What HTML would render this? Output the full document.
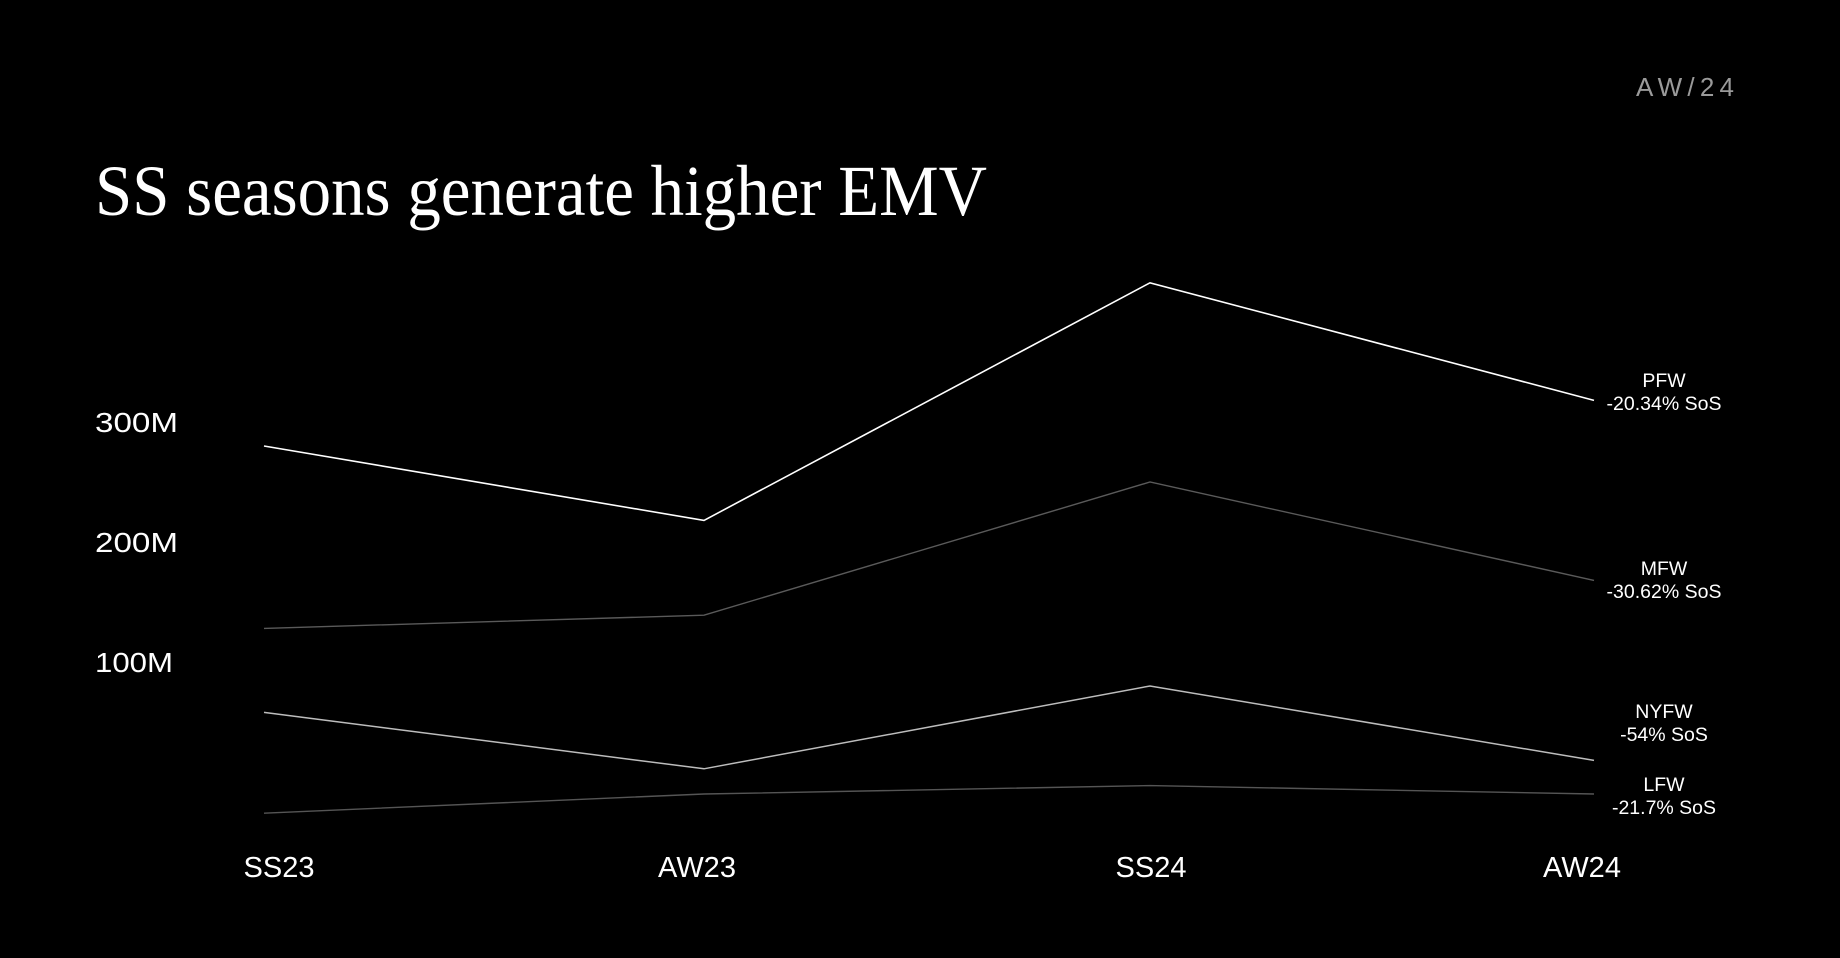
<!DOCTYPE html>
<html><head><meta charset="utf-8"><style>
html,body{margin:0;padding:0;background:#000;}
svg{display:block;}
</style></head><body>
<svg id="chart" width="1840" height="958" viewBox="0 0 1840 958">
<rect width="1840" height="958" fill="#000"/>
<text x="1636" y="96" font-family="Liberation Sans, sans-serif" font-size="26" fill="#9a9a9a" textLength="98">AW/24</text>
<text x="95" y="215" font-family="Liberation Serif, serif" font-size="72" fill="#fff" textLength="892" lengthAdjust="spacingAndGlyphs">SS seasons generate higher EMV</text>
<g id="plot"></g>
</svg>
<script>
const categories = ["SS23","AW23","SS24","AW24"];
const seriesNames = ["PFW","MFW","NYFW","LFW"];
const seriesNotes = ["-20.34% SoS","-30.62% SoS","-54% SoS","-21.7% SoS"];
const pfwValues = [320, 258, 456, 358];
const mfwValues = [168, 179, 290, 208];
const nyfwValues = [98, 51, 120, 58];
const lfwValues = [14, 30, 37, 30];
const yTicks = [100, 200, 300];
const yTickLabels = ["100M","200M","300M"];

const NS = "http://www.w3.org/2000/svg";
const plot = document.getElementById('plot');
const xPos = [264, 704, 1150, 1594];
const labelX = [279, 697, 1151, 1582];
function x(i){ return xPos[i]; }
function y(v){ return 830 - v * 1.2; }
function mk(tag, attrs){ const e = document.createElementNS(NS, tag); for (const k in attrs) e.setAttribute(k, attrs[k]); plot.appendChild(e); return e; }

yTicks.forEach((t, i) => {
  const e = mk('text', {x: 95, y: y(t) - 38, 'font-family': 'Liberation Sans, sans-serif', 'font-size': 28, fill: '#fff', textLength: i === 0 ? 78 : 83, lengthAdjust: 'spacingAndGlyphs'});
  e.textContent = yTickLabels[i];
  
  
});
categories.forEach((c, i) => {
  const e = mk('text', {x: labelX[i], y: 877, 'text-anchor': 'middle', 'font-family': 'Liberation Sans, sans-serif', 'font-size': 29, fill: '#fff'});
  e.textContent = c;
  
  
});

const allSeries = [pfwValues, mfwValues, nyfwValues, lfwValues];
const colors = ["#ffffff", "#5a5a5a", "#bdbdbd", "#555555"];
const widths = [1.6, 1.4, 1.5, 1.4];
const labelYs = [380, 568, 711, 784];
allSeries.forEach((vals, s) => {
  const pts = vals.map((v, i) => x(i) + ',' + y(v)).join(' ');
  const l = mk('polyline', {points: pts, fill: 'none', stroke: colors[s], 'stroke-width': widths[s]});
  
  
  const t1 = mk('text', {x: 1664, y: labelYs[s] + 7, 'text-anchor': 'middle', 'font-family': 'Liberation Sans, sans-serif', 'font-size': 19.5, fill: '#fff'});
  t1.textContent = seriesNames[s];
  
  
  const t2 = mk('text', {x: 1664, y: labelYs[s] + 30, 'text-anchor': 'middle', 'font-family': 'Liberation Sans, sans-serif', 'font-size': 19.5, fill: '#fff'});
  t2.textContent = seriesNotes[s];
  
  
});
</script>
</body></html>
